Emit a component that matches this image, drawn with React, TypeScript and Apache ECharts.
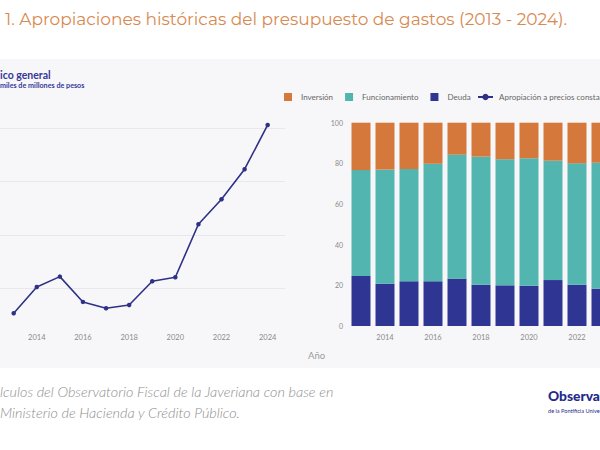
import React, { useEffect, useRef } from "react";
import * as echarts from "echarts";

const years = ["2013", "2014", "2015", "2016", "2017", "2018", "2019", "2020", "2021", "2022", "2023", "2024"];
// Apropiación a precios constantes (miles de millones de pesos)
const apropiacion = [326600, 351200, 360900, 337200, 331300, 334300, 356600, 360300, 410000, 433400, 461600, 503100];
// Composición (%)
const deuda = [24.6, 20.8, 22.0, 22.0, 23.3, 20.3, 20.0, 19.8, 22.6, 20.3, 18.4, 18.5];
const funcionamiento = [52.1, 56.1, 55.2, 57.8, 61.0, 63.0, 62.0, 62.7, 58.7, 59.7, 61.9, 61.5];
const inversion = [23.3, 23.1, 22.8, 20.2, 15.7, 16.7, 18.0, 17.5, 18.7, 20.0, 19.7, 20.0];

const titleText = "1. Apropiaciones históricas del presupuesto de gastos (2013 - 2024).";
const subtitle1 = "ico general";
const subtitle2 = "miles de millones de pesos";
const axisName = "Año";
const footer1 = "lculos del Observatorio Fiscal de la Javeriana con base en";
const footer2 = "Ministerio de Hacienda y Crédito Público.";
const logo1 = "Observa";
const logo2 = "de la Pontificia Unive";

const C_INV = "#d4793b";
const C_FUN = "#52b5b0";
const C_DEU = "#2e3592";
const C_LINE = "#2f3186";
const FONT = "Lato, 'Open Sans', sans-serif";
const OFF = 20; // chart canvas starts OFF px left of the visible page

export default function App() {
  const ref = useRef<HTMLDivElement>(null);
  useEffect(() => {
    if (!ref.current) return;
    const chart = echarts.init(ref.current, null, { renderer: "svg" });
    const grid = "#e8e8ec";
    const X = (v: number) => v + OFF;
    chart.setOption({
      animation: false,
      backgroundColor: "#ffffff",
      textStyle: { fontFamily: FONT },
      graphic: [
        { type: "rect", z: -10, silent: true, shape: { x: 0, y: 59, width: 680, height: 309 }, style: { fill: "#f7f7f9" } },
        { type: "text", x: X(5), y: 27, style: { text: titleText, fill: "#d78a52", font: "400 17px Montserrat, 'Open Sans', sans-serif", textVerticalAlign: "bottom" } },
        { type: "text", x: X(0), y: 75, style: { text: subtitle1, fill: "#35379a", font: `bold 10.5px ${FONT}`, textVerticalAlign: "middle" } },
        { type: "text", x: X(0), y: 85.5, style: { text: subtitle2, fill: "#35379a", font: `bold 7.2px ${FONT}`, textVerticalAlign: "middle" } },
        { type: "text", x: X(308), y: 355, style: { text: axisName, fill: "#9a9a9a", font: `9.5px ${FONT}`, textVerticalAlign: "middle" } },
        { type: "text", x: X(0), y: 398, style: { text: footer1, fill: "#8e8e8e", font: `italic 300 14.4px ${FONT}`, textVerticalAlign: "bottom" } },
        { type: "text", x: X(0), y: 419, style: { text: footer2, fill: "#8e8e8e", font: `italic 300 14.4px ${FONT}`, textVerticalAlign: "bottom" } },
        { type: "text", x: X(548), y: 402, style: { text: logo1, fill: "#1f2a8c", font: `900 13.8px ${FONT}`, textVerticalAlign: "bottom" } },
        { type: "text", x: X(548), y: 410, style: { text: logo2, fill: "#1f2a8c", font: `5.6px ${FONT}`, textVerticalAlign: "middle" } },
      ],
      legend: [
        {
          data: ["Inversión", "Funcionamiento", "Deuda"],
          left: X(284),
          top: 93,
          padding: 0,
          itemWidth: 8,
          itemHeight: 8,
          itemGap: 12,
          icon: "rect",
          textStyle: { color: "#666", fontSize: 8, fontFamily: FONT, padding: [0, 0, 0, 4] },
        },
        {
          data: ["Apropiación a precios constantes"],
          left: X(477),
          top: 93,
          padding: 0,
          itemWidth: 15,
          itemHeight: 8,
          textStyle: { color: "#666", fontSize: 8, fontFamily: FONT, padding: [0, 0, 0, 1] },
        },
      ],
      grid: [
        { left: X(-9.4), top: 117.6, width: 294.4, height: 224 },
        { left: X(349), top: 122.7, width: 288, height: 203.3 },
      ],
      xAxis: [
        {
          type: "value",
          gridIndex: 0,
          min: 2012,
          max: 2024.75,
          interval: 2,
          offset: -12,
          axisLine: { show: false },
          axisTick: { show: false },
          splitLine: { show: false },
          axisLabel: {
            margin: 4,
            color: "#8a8a8a",
            fontSize: 7.5,
            fontFamily: FONT,
            showMinLabel: false,
            showMaxLabel: false,
            formatter: (v: number) => String(v),
          },
        },
        {
          type: "category",
          gridIndex: 1,
          data: years,
          axisLine: { show: false },
          axisTick: { show: false },
          axisLabel: {
            interval: (i: number) => i % 2 === 1,
            margin: 7,
            color: "#8a8a8a",
            fontSize: 7.5,
            fontFamily: FONT,
          },
        },
      ],
      yAxis: [
        {
          type: "value",
          gridIndex: 0,
          min: 300000,
          max: 510000,
          interval: 50000,
          axisLine: { show: false },
          axisTick: { show: false },
          axisLabel: { show: false },
          splitLine: {
            show: true,
            lineStyle: { color: ["rgba(0,0,0,0)", grid, grid, grid, grid, "rgba(0,0,0,0)"], width: 1 },
          },
        },
        {
          type: "value",
          gridIndex: 1,
          min: 0,
          max: 100,
          interval: 20,
          axisLine: { show: false },
          axisTick: { show: false },
          splitLine: { show: false },
          axisLabel: { margin: 6, color: "#8a8a8a", fontSize: 7, fontFamily: FONT },
        },
      ],
      series: [
        {
          name: "Apropiación a precios constantes",
          type: "line",
          xAxisIndex: 0,
          yAxisIndex: 0,
          data: years.map((y, i) => [Number(y), apropiacion[i]]),
          symbol: "circle",
          symbolSize: 4.5,
          itemStyle: { color: C_LINE },
          lineStyle: { color: C_LINE, width: 1.6 },
        },
        {
          name: "Deuda",
          type: "bar",
          stack: "comp",
          xAxisIndex: 1,
          yAxisIndex: 1,
          barWidth: 19,
          data: deuda,
          itemStyle: { color: C_DEU },
        },
        {
          name: "Funcionamiento",
          type: "bar",
          stack: "comp",
          xAxisIndex: 1,
          yAxisIndex: 1,
          barWidth: 19,
          data: funcionamiento,
          itemStyle: { color: C_FUN },
        },
        {
          name: "Inversión",
          type: "bar",
          stack: "comp",
          xAxisIndex: 1,
          yAxisIndex: 1,
          barWidth: 19,
          data: inversion,
          itemStyle: { color: C_INV },
        },
      ],
    });
    return () => chart.dispose();
  }, []);
  return (
    <div style={{ position: "absolute", left: 0, top: 0, width: 600, height: 450, overflow: "hidden" }}>
      <div ref={ref} style={{ position: "absolute", left: -OFF, top: 0, width: 680, height: 450 }} />
    </div>
  );
}
